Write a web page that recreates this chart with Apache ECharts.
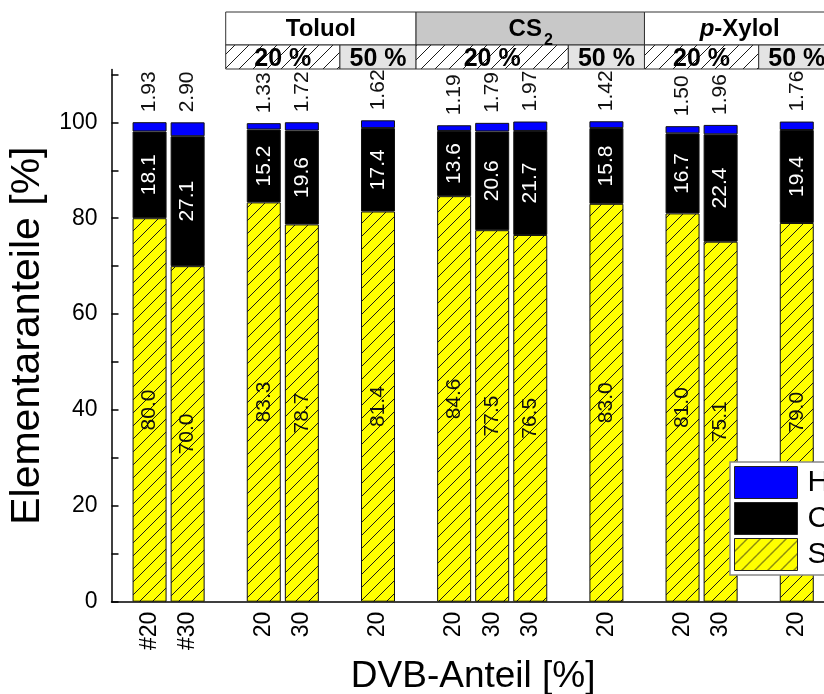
<!DOCTYPE html>
<html><head><meta charset="utf-8">
<script src="https://cdn.jsdelivr.net/npm/echarts@6/dist/echarts.min.js"></script>
<style>html,body{margin:0;padding:0;background:#fff}#c{width:824px;height:694px}</style>
</head><body><div id="c"></div>
<script>
// ---------- data ----------
const categories = ['', '#20', '#30', '', '20', '30', '', '20', '', '20', '30', '30', '', '20', '', '20', '30', '', '20', ''];
const sValues = [null, 80.0, 70.0, null, 83.3, 78.7, null, 81.4, null, 84.6, 77.5, 76.5, null, 83.0, null, 81.0, 75.1, null, 79.0, null];
const cValues = [null, 18.1, 27.1, null, 15.2, 19.6, null, 17.4, null, 13.6, 20.6, 21.7, null, 15.8, null, 16.7, 22.4, null, 19.4, null];
const hValues = [null, 1.93, 2.90, null, 1.33, 1.72, null, 1.62, null, 1.19, 1.79, 1.97, null, 1.42, null, 1.50, 1.96, null, 1.76, null];
const runSolvent = [null, 'Toluol', 'Toluol', 'CS2', 'CS2', 'p-Xylol', 'p-Xylol'];
const runConc = [null, '20 %', '50 %', '20 %', '50 %', '20 %', '50 %'];
const legendNames = ['H', 'C', 'S'];
const yLabelValues = [0, 20, 40, 60, 80, 100];
const yTickValues = [0, 10, 20, 30, 40, 50, 60, 70, 80, 90, 100, 110];

// ---------- helpers ----------
const FONT = 'Liberation Sans, Arial, sans-serif';
function hatch(bg, line, size, lw) {
  const c = document.createElement('canvas'); c.width = c.height = size;
  const g = c.getContext('2d');
  if (bg) { g.fillStyle = bg; g.fillRect(0, 0, size, size); }
  g.strokeStyle = line; g.lineWidth = lw;
  g.beginPath();
  g.moveTo(0, size); g.lineTo(size, 0);
  g.moveTo(-size / 2, size / 2); g.lineTo(size / 2, -size / 2);
  g.moveTo(size / 2, size * 1.5); g.lineTo(size * 1.5, size / 2);
  g.stroke();
  return c;
}
const barHatch = { image: hatch('#ffff00', '#1a1a1a', 13, 1), repeat: 'repeat' };
const headHatch = { image: hatch('#ffffff', '#1a1a1a', 14, 1), repeat: 'repeat' };

const chart = echarts.init(document.getElementById('c'), null, { renderer: 'canvas' });
const unit = 38.07;
const labelBase = { show: true, rotate: 90, fontSize: 21, fontFamily: FONT };

chart.setOption({
  animation: false,
  textStyle: { fontFamily: FONT },
  grid: { left: 111.5, top: 69.6, height: 532.1, width: unit * (categories.length - 1), outerBoundsMode: 'none' },
  xAxis: {
    type: 'category', data: categories, boundaryGap: false,
    axisLine: { lineStyle: { color: '#000', width: 1.5 } },
    axisTick: { show: false },
    axisLabel: { rotate: 90, fontSize: 23, color: '#000', margin: 10, interval: 0 },
    splitLine: { show: false },
    name: 'DVB-Anteil [%]', nameLocation: 'middle', nameGap: 44,
    nameTextStyle: { fontSize: 37, color: '#000' }
  },
  yAxis: {
    type: 'value', min: 0, max: 111,
    axisLine: { show: true, lineStyle: { color: '#000', width: 1.5 } },
    axisTick: { show: true, inside: true, length: 7, customValues: yTickValues, lineStyle: { color: '#000', width: 1.5 } },
    axisLabel: { customValues: yLabelValues, fontSize: 23, color: '#000', margin: 14 },
    splitLine: { show: false },
    name: 'Elementaranteile [%]', nameLocation: 'middle', nameGap: 60,
    nameTextStyle: { fontSize: 41, color: '#000' }
  },
  legend: {
    data: legendNames, orient: 'vertical', left: 730, top: 462,
    itemWidth: 63, itemHeight: 32, itemGap: 3, icon: 'rect',
    padding: [4, 40, 4, 4], backgroundColor: '#fff', borderColor: '#888', borderWidth: 1.5,
    textStyle: { fontSize: 30, color: '#000', padding: [0, 0, 0, 5] },
    itemStyle: { borderColor: '#222', borderWidth: 1 },
    selectedMode: false
  },
  series: [
    {
      name: 'S', type: 'bar', stack: 'all', barWidth: 34, data: sValues,
      itemStyle: { color: barHatch, borderColor: '#111', borderWidth: 1 },
      label: Object.assign({}, labelBase, { position: 'inside', color: '#111', formatter: p => p.value.toFixed(1) })
    },
    {
      name: 'C', type: 'bar', stack: 'all', barWidth: 34, data: cValues,
      itemStyle: { color: '#000', borderColor: '#111', borderWidth: 1 },
      label: Object.assign({}, labelBase, { position: 'inside', color: '#fff', formatter: p => p.value.toFixed(1) })
    },
    {
      name: 'H', type: 'bar', stack: 'all', barWidth: 34, data: hValues,
      itemStyle: { color: '#0000ff', borderColor: '#111', borderWidth: 1 },
      label: Object.assign({}, labelBase, { position: 'top', distance: 10, align: 'left', verticalAlign: 'middle', color: '#111', formatter: p => p.value.toFixed(2) })
    }
  ]
});

// ---------- header table (cells span between blank categories) ----------
function buildHeader() {
  const px = i => chart.convertToPixel({ xAxisIndex: 0 }, i);
  const gaps = [];
  categories.forEach((c, i) => { if (c === '') gaps.push(i); });
  const runs = [];
  for (let k = 0; k < gaps.length - 1; k++) {
    if (gaps[k + 1] - gaps[k] > 1) runs.push([gaps[k], gaps[k + 1]]);
  }
  const y0 = 12, y1 = 45, y2 = 69;
  const els = [];
  const measure = document.createElement('canvas').getContext('2d');
  const spans = [];
  runs.forEach((r, k) => {
    const s = runSolvent[k];
    if (!s) return;
    const last = spans[spans.length - 1];
    if (last && last.name === s) last.to = r[1]; else spans.push({ name: s, from: r[0], to: r[1] });
  });
  spans.forEach((sp, j) => {
    const xa = px(sp.from), xb = px(sp.to);
    els.push({ type: 'rect', shape: { x: xa, y: y0, width: xb - xa, height: y1 - y0 },
      style: { fill: j % 2 ? '#c8c8c8' : '#ffffff', stroke: '#333', lineWidth: 1 }, z: 10 });
    const cx = (xa + xb) / 2, cy = (y0 + y1) / 2 + 1;
    const sub = sp.name.match(/^(\D+)(\d+)$/);
    const ital = sp.name.match(/^([a-z])-(.*)$/);
    if (sub) {
      measure.font = 'bold 24px ' + FONT;
      const w = measure.measureText(sub[1]).width;
      els.push({ type: 'text', z: 12, style: { text: sub[1], x: cx - 5, y: cy, align: 'center', verticalAlign: 'middle', fontSize: 24, fontWeight: 'bold', fontFamily: FONT, fill: '#000' } });
      els.push({ type: 'text', z: 12, style: { text: sub[2], x: cx - 5 + w / 2 + 2, y: cy + 11, align: 'left', verticalAlign: 'middle', fontSize: 16, fontWeight: 'bold', fontFamily: FONT, fill: '#000' } });
    } else if (ital) {
      els.push({ type: 'text', z: 12, style: { text: '{i|' + ital[1] + '}{n|-' + ital[2] + '}', x: cx, y: cy, align: 'center', verticalAlign: 'middle',
        rich: { i: { fontSize: 24, fontWeight: 'bold', fontStyle: 'italic', fontFamily: FONT, fill: '#000' }, n: { fontSize: 24, fontWeight: 'bold', fontFamily: FONT, fill: '#000' } } } });
    } else {
      els.push({ type: 'text', z: 12, style: { text: sp.name, x: cx, y: cy, align: 'center', verticalAlign: 'middle', fontSize: 24, fontWeight: 'bold', fontFamily: FONT, fill: '#000' } });
    }
  });
  runs.forEach((r, k) => {
    const conc = runConc[k];
    if (!conc) return;
    const xa = px(r[0]), xb = px(r[1]);
    const hatched = conc.indexOf('20') === 0;
    els.push({ type: 'rect', shape: { x: xa, y: y1, width: xb - xa, height: y2 - y1 },
      style: { fill: hatched ? headHatch : '#e4e4e4', stroke: '#333', lineWidth: 1 }, z: 10 });
    els.push({ type: 'text', z: 12, style: { text: conc, x: (xa + xb) / 2, y: (y1 + y2) / 2 + 2, align: 'center', verticalAlign: 'middle', fontSize: 25, fontWeight: 'bold', fontFamily: FONT, fill: '#000' } });
  });
  chart.setOption({ graphic: els });
}
buildHeader();
</script>
</body></html>
